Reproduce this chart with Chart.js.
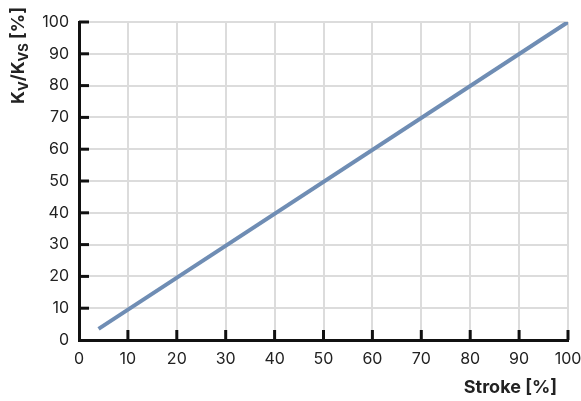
<!DOCTYPE html>
<html>
<head>
<meta charset="utf-8">
<script src="https://cdn.jsdelivr.net/npm/chart.js@4/dist/chart.umd.min.js"></script>
<style>
  html, body { margin: 0; padding: 0; background: #fff; }
  #wrap { width: 581px; height: 401px; }
</style>
</head>
<body>
<div id="wrap"><canvas id="myChart" width="581" height="401"></canvas></div>
<script>
// stroke [%] vs Kv/Kvs [%]
const stroke = [4, 100];
const kvRatio = [3.5, 100];
const xTicks = [0, 10, 20, 30, 40, 50, 60, 70, 80, 90, 100];
const yTicks = [0, 10, 20, 30, 40, 50, 60, 70, 80, 90, 100];

const lineColor = "#6f8db4";
const fontFamily = "Inter, Roboto, 'Noto Sans', sans-serif";

let points = stroke.map((s, i) => ({ x: s, y: kvRatio[i] }));

// inward tick marks + axis titles (with subscripts)
const extras = {
    id: "extras",
    afterDraw(chart) {
        const ctx = chart.ctx;
        const xs = chart.scales.x;
        const ys = chart.scales.y;
        const area = chart.chartArea;

        ctx.save();
        ctx.strokeStyle = "#111";
        ctx.lineWidth = 3;
        xTicks.forEach(v => {
            if (v === 0) return;
            const px = xs.getPixelForValue(v);
            ctx.beginPath();
            ctx.moveTo(px, area.bottom);
            ctx.lineTo(px, area.bottom - 10);
            ctx.stroke();
        });
        yTicks.forEach(v => {
            if (v === 0) return;
            const py = ys.getPixelForValue(v);
            ctx.beginPath();
            ctx.moveTo(area.left, py);
            ctx.lineTo(area.left + 10, py);
            ctx.stroke();
        });
        ctx.restore();

        // x title
        ctx.save();
        ctx.fillStyle = "#222";
        ctx.font = "bold 18px " + fontFamily;
        ctx.textAlign = "right";
        ctx.textBaseline = "middle";
        ctx.fillText("Stroke [%]", 557, 388);
        ctx.restore();

        // y title: K_V/K_VS [%]
        ctx.save();
        ctx.translate(24, 104);
        ctx.rotate(-Math.PI / 2);
        ctx.fillStyle = "#222";
        ctx.textBaseline = "alphabetic";
        ctx.textAlign = "left";
        const big = "bold 18px " + fontFamily;
        const small = "bold 13px " + fontFamily;
        const parts = [["K", big, 0], ["V", small, 4], ["/K", big, 0], ["VS", small, 4], [" [%]", big, 0]];
        let cx = 0;
        parts.forEach(p => {
            ctx.font = p[1];
            ctx.fillText(p[0], cx, p[2]);
            cx += ctx.measureText(p[0]).width;
        });
        ctx.restore();
    }
};

let data = {
    datasets: [{
        label: "Kv/Kvs",
        data: points,
        borderColor: lineColor,
        backgroundColor: lineColor,
        borderWidth: 4,
        pointRadius: 0,
        tension: 0
    }]
};

let config = {
    type: "line",
    data: data,
    options: {
        responsive: false,
        animation: false,
        layout: { padding: { top: 22, right: 13, left: 0, bottom: 0 } },
        plugins: {
            legend: { display: false },
            tooltip: { enabled: false }
        },
        scales: {
            x: {
                type: "linear",
                min: 0,
                max: 100,
                afterBuildTicks: s => { s.ticks = xTicks.map(v => ({ value: v })); },
                afterFit: s => { s.height = 61; s.paddingLeft = 0; s.paddingRight = 0; },
                grid: { color: "#dcdcdc", lineWidth: 2, drawTicks: false },
                border: { color: "#111", width: 3 },
                ticks: {
                    color: "#222",
                    padding: 10,
                    maxRotation: 0,
                    font: { family: fontFamily, size: 16 }
                }
            },
            y: {
                type: "linear",
                min: 0,
                max: 100,
                afterBuildTicks: s => { s.ticks = yTicks.map(v => ({ value: v })); },
                afterFit: s => { s.width = 79; s.paddingTop = 0; s.paddingBottom = 0; },
                grid: { color: "#dcdcdc", lineWidth: 2, drawTicks: false },
                border: { color: "#111", width: 3 },
                ticks: {
                    color: "#222",
                    padding: 10,
                    font: { family: fontFamily, size: 16 }
                }
            }
        }
    },
    plugins: [extras]
};

let myChart = new Chart(document.getElementById("myChart"), config);
</script>
</body>
</html>
